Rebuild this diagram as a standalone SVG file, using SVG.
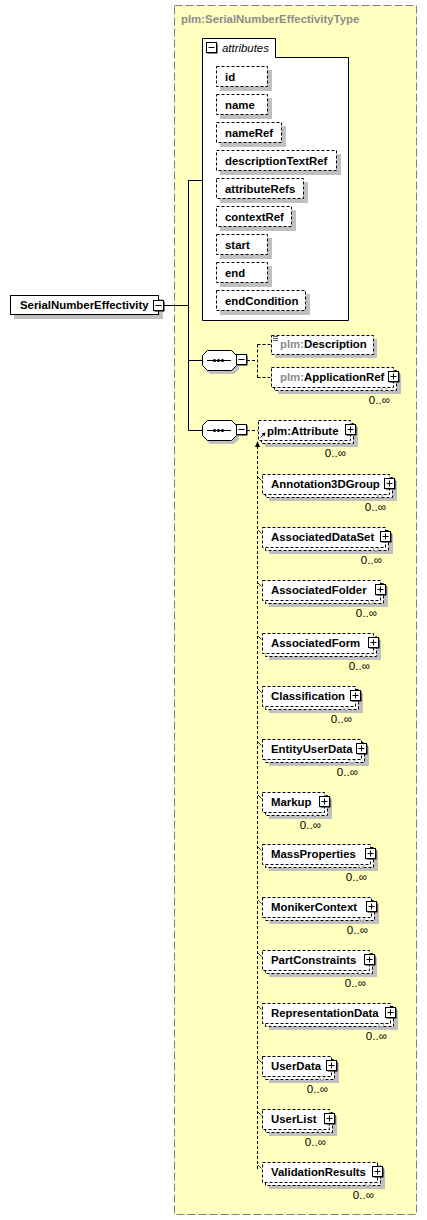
<svg xmlns="http://www.w3.org/2000/svg" width="427" height="1220" viewBox="0 0 427 1220">
<style>
text{font-family:"Liberation Sans",Arial,sans-serif;font-size:11.4px}
.t{font-weight:bold;fill:#000}
.title{font-weight:bold;fill:#8c8c8c}
.gp{fill:#8c8c8c}
.o{text-anchor:end;fill:#000;font-size:11.6px}
.sh{fill:#c0c0c0}
.bx{fill:#fff;stroke:#000;stroke-dasharray:3 2}
.sb{fill:#fff;stroke:#000}
.ln{stroke:#000;fill:none}
.dl{stroke:#000;fill:none;stroke-dasharray:3 2}
.vm{stroke:#777;fill:#fff;stroke-width:0.8}
</style>
<defs>
<g id="plus"><rect x="1" y="1" width="10" height="10" fill="#000"/><rect x="0" y="0" width="10" height="10" fill="#fff" stroke="#000"/><path d="M2 5H8M5 2V8" stroke="#000"/></g>
<g id="minus"><rect x="1" y="1" width="10" height="10" fill="#000"/><rect x="0" y="0" width="10" height="10" fill="#fff" stroke="#000"/><path d="M2 5H8" stroke="#000"/></g>
<g id="seq">
<polygon class="sh" points="210,353 234,353 239,358 239,369 234,374 210,374 205,369 205,358"/>
<polygon class="sb" points="207.5,350.5 231.5,350.5 236.5,355.5 236.5,365.5 231.5,370.5 207.5,370.5 202.5,365.5 202.5,355.5"/>
<path d="M207 360.5H231" stroke="#000"/>
<circle cx="214.5" cy="360.5" r="1.6"/><circle cx="218.5" cy="360.5" r="1.6"/><circle cx="222.5" cy="360.5" r="1.6"/>
<use href="#minus" x="236.5" y="354.5"/>
</g>
</defs>

<g id="type-box">
<rect x="174.5" y="5.5" width="242" height="1209" fill="#ffffc0" stroke="#808080" stroke-dasharray="8 3"/>
<text class="title" x="181" y="23">plm:SerialNumberEffectivityType</text>
</g>

<g id="connectors">
<path class="ln" d="M164 305.5H188.5M188.5 180V430.5M188.5 180.5H202M188.5 360.5H202M188.5 430.5H202"/>
<path class="dl" d="M247 360.5H257.5M257.5 344.5V377.5M257.5 344.5H271M257.5 377.5H271"/>
<path class="dl" d="M247 430.5H258"/>
<path class="dl" d="M257.5 446V1169"/>
<polygon points="257.5,441 255,447 260,447"/>
<path class="ln" d="M258 477L261.5 480.5M258 530L261.5 533.5M258 583L261.5 586.5M258 636L261.5 639.5M258 689L261.5 692.5M258 742L261.5 745.5M258 795L261.5 798.5M258 847L261.5 850.5M258 900L261.5 903.5M258 953L261.5 956.5M258 1006L261.5 1009.5M258 1059L261.5 1062.5M258 1112L261.5 1115.5M258 1165L261.5 1168.5" stroke-width="0.8"/>
</g>

<g id="attributes">
<path d="M202.5 38.5H275.5V57.5H348.5V320.5H202.5Z" fill="#fff" stroke="#000"/>
<use href="#minus" x="206.5" y="42.5"/>
<text x="222" y="52" font-style="italic">attributes</text>
</g>
<g id="attr-id"><rect class="sh" x="220" y="70" width="52" height="21"/><rect class="bx" x="216.5" y="66.5" width="51" height="20"/><text class="t" x="225" y="81">id</text></g>
<g id="attr-name"><rect class="sh" x="220" y="98" width="52" height="21"/><rect class="bx" x="216.5" y="94.5" width="51" height="20"/><text class="t" x="225" y="109">name</text></g>
<g id="attr-nameRef"><rect class="sh" x="220" y="126" width="66" height="21"/><rect class="bx" x="216.5" y="122.5" width="65" height="20"/><text class="t" x="225" y="137">nameRef</text></g>
<g id="attr-descriptionTextRef"><rect class="sh" x="220" y="154" width="121" height="21"/><rect class="bx" x="216.5" y="150.5" width="120" height="20"/><text class="t" x="225" y="165">descriptionTextRef</text></g>
<g id="attr-attributeRefs"><rect class="sh" x="220" y="182" width="88" height="21"/><rect class="bx" x="216.5" y="178.5" width="87" height="20"/><text class="t" x="225" y="193">attributeRefs</text></g>
<g id="attr-contextRef"><rect class="sh" x="220" y="210" width="76" height="21"/><rect class="bx" x="216.5" y="206.5" width="75" height="20"/><text class="t" x="225" y="221">contextRef</text></g>
<g id="attr-start"><rect class="sh" x="220" y="238" width="52" height="21"/><rect class="bx" x="216.5" y="234.5" width="51" height="20"/><text class="t" x="225" y="249">start</text></g>
<g id="attr-end"><rect class="sh" x="220" y="266" width="52" height="21"/><rect class="bx" x="216.5" y="262.5" width="51" height="20"/><text class="t" x="225" y="277">end</text></g>
<g id="attr-endCondition"><rect class="sh" x="220" y="294" width="90" height="21"/><rect class="bx" x="216.5" y="290.5" width="89" height="20"/><text class="t" x="225" y="305">endCondition</text></g>

<g id="root">
<rect class="sh" x="14" y="299" width="149" height="20"/>
<rect class="sb" x="10.5" y="295.5" width="148" height="19"/>
<text class="t" x="20" y="309">SerialNumberEffectivity</text>
<use href="#minus" x="153.5" y="300.5"/>
</g>

<g id="sequence1"><use href="#seq"/></g>
<g id="sequence2"><use href="#seq" transform="translate(0,70)"/></g>

<g id="Description">
<rect class="sh" x="275" y="339" width="102" height="19"/>
<rect class="bx" x="271.5" y="335.5" width="102" height="19"/>
<path d="M273 336.5H278M273 338.5H278M273 340.5H278" stroke="#333" stroke-width="0.8"/>
<text class="t" x="280" y="348"><tspan class="gp">plm:</tspan>Description</text>
</g>

<g id="ApplicationRef" transform="translate(0,367)">
<rect class="sh" x="278" y="7" width="123" height="20"/>
<rect class="bx" x="274.5" y="3.5" width="122" height="20"/>
<rect class="bx" x="271.5" y="0.5" width="122" height="20"/>
<text class="t" x="280" y="14"><tspan class="gp">plm:</tspan>ApplicationRef</text>
<use href="#plus" x="388.5" y="4.5"/>
<path class="vm" d="M381 21l3 4l3 -4"/>
<text class="o" x="390" y="37">0..∞</text>
</g>

<g id="Attribute" transform="translate(0,420)">
<rect class="sh" x="265" y="7" width="93" height="20"/>
<rect class="bx" x="261.5" y="3.5" width="92" height="20"/>
<rect class="bx" x="258.5" y="0.5" width="92" height="20"/>
<text class="t" x="267" y="14.5">plm:Attribute</text>
<use href="#plus" x="345.5" y="4.5"/>
<path class="vm" d="M338 21l3 4l3 -4"/>
<text class="o" x="346" y="37">0..∞</text>
<path d="M260.5 17.5L263.5 14.5" stroke="#000"/>
<polygon points="265.5,12.5 261.5,13.5 264.5,16.5"/>
</g>

<g id="Annotation3DGroup" transform="translate(0,474)">
<rect class="sh" x="269" y="7" width="128" height="20"/><rect class="bx" x="265.5" y="3.5" width="127" height="20"/><rect class="bx" x="262.5" y="0.5" width="127" height="20"/>
<text class="t" x="271" y="14">Annotation3DGroup</text><use href="#plus" x="384.5" y="4.5"/><path class="vm" d="M377 21l3 4l3 -4"/><text class="o" x="386" y="37">0..∞</text>
</g>
<g id="AssociatedDataSet" transform="translate(0,527)">
<rect class="sh" x="269" y="7" width="124" height="20"/><rect class="bx" x="265.5" y="3.5" width="123" height="20"/><rect class="bx" x="262.5" y="0.5" width="123" height="20"/>
<text class="t" x="271" y="14">AssociatedDataSet</text><use href="#plus" x="380.5" y="4.5"/><path class="vm" d="M373 21l3 4l3 -4"/><text class="o" x="382" y="37">0..∞</text>
</g>
<g id="AssociatedFolder" transform="translate(0,580)">
<rect class="sh" x="269" y="7" width="119" height="20"/><rect class="bx" x="265.5" y="3.5" width="118" height="20"/><rect class="bx" x="262.5" y="0.5" width="118" height="20"/>
<text class="t" x="271" y="14">AssociatedFolder</text><use href="#plus" x="375.5" y="4.5"/><path class="vm" d="M368 21l3 4l3 -4"/><text class="o" x="377" y="37">0..∞</text>
</g>
<g id="AssociatedForm" transform="translate(0,633)">
<rect class="sh" x="269" y="7" width="112" height="20"/><rect class="bx" x="265.5" y="3.5" width="111" height="20"/><rect class="bx" x="262.5" y="0.5" width="111" height="20"/>
<text class="t" x="271" y="14">AssociatedForm</text><use href="#plus" x="368.5" y="4.5"/><path class="vm" d="M361 21l3 4l3 -4"/><text class="o" x="370" y="37">0..∞</text>
</g>
<g id="Classification" transform="translate(0,686)">
<rect class="sh" x="269" y="7" width="94" height="20"/><rect class="bx" x="265.5" y="3.5" width="93" height="20"/><rect class="bx" x="262.5" y="0.5" width="93" height="20"/>
<text class="t" x="271" y="14">Classification</text><use href="#plus" x="350.5" y="4.5"/><path class="vm" d="M343 21l3 4l3 -4"/><text class="o" x="352" y="37">0..∞</text>
</g>
<g id="EntityUserData" transform="translate(0,739)">
<rect class="sh" x="269" y="7" width="100" height="20"/><rect class="bx" x="265.5" y="3.5" width="99" height="20"/><rect class="bx" x="262.5" y="0.5" width="99" height="20"/>
<text class="t" x="271" y="14">EntityUserData</text><use href="#plus" x="356.5" y="4.5"/><path class="vm" d="M349 21l3 4l3 -4"/><text class="o" x="358" y="37">0..∞</text>
</g>
<g id="Markup" transform="translate(0,792)">
<rect class="sh" x="269" y="7" width="63" height="20"/><rect class="bx" x="265.5" y="3.5" width="62" height="20"/><rect class="bx" x="262.5" y="0.5" width="62" height="20"/>
<text class="t" x="271" y="14">Markup</text><use href="#plus" x="319.5" y="4.5"/><path class="vm" d="M312 21l3 4l3 -4"/><text class="o" x="321" y="37">0..∞</text>
</g>
<g id="MassProperties" transform="translate(0,844)">
<rect class="sh" x="269" y="7" width="109" height="20"/><rect class="bx" x="265.5" y="3.5" width="108" height="20"/><rect class="bx" x="262.5" y="0.5" width="108" height="20"/>
<text class="t" x="271" y="14">MassProperties</text><use href="#plus" x="365.5" y="4.5"/><path class="vm" d="M358 21l3 4l3 -4"/><text class="o" x="367" y="37">0..∞</text>
</g>
<g id="MonikerContext" transform="translate(0,897)">
<rect class="sh" x="269" y="7" width="110" height="20"/><rect class="bx" x="265.5" y="3.5" width="109" height="20"/><rect class="bx" x="262.5" y="0.5" width="109" height="20"/>
<text class="t" x="271" y="14">MonikerContext</text><use href="#plus" x="366.5" y="4.5"/><path class="vm" d="M359 21l3 4l3 -4"/><text class="o" x="368" y="37">0..∞</text>
</g>
<g id="PartConstraints" transform="translate(0,950)">
<rect class="sh" x="269" y="7" width="108" height="20"/><rect class="bx" x="265.5" y="3.5" width="107" height="20"/><rect class="bx" x="262.5" y="0.5" width="107" height="20"/>
<text class="t" x="271" y="14">PartConstraints</text><use href="#plus" x="364.5" y="4.5"/><path class="vm" d="M357 21l3 4l3 -4"/><text class="o" x="366" y="37">0..∞</text>
</g>
<g id="RepresentationData" transform="translate(0,1003)">
<rect class="sh" x="269" y="7" width="129" height="20"/><rect class="bx" x="265.5" y="3.5" width="128" height="20"/><rect class="bx" x="262.5" y="0.5" width="128" height="20"/>
<text class="t" x="271" y="14">RepresentationData</text><use href="#plus" x="385.5" y="4.5"/><path class="vm" d="M378 21l3 4l3 -4"/><text class="o" x="387" y="37">0..∞</text>
</g>
<g id="UserData" transform="translate(0,1056)">
<rect class="sh" x="269" y="7" width="70" height="20"/><rect class="bx" x="265.5" y="3.5" width="69" height="20"/><rect class="bx" x="262.5" y="0.5" width="69" height="20"/>
<text class="t" x="271" y="14">UserData</text><use href="#plus" x="326.5" y="4.5"/><path class="vm" d="M319 21l3 4l3 -4"/><text class="o" x="328" y="37">0..∞</text>
</g>
<g id="UserList" transform="translate(0,1109)">
<rect class="sh" x="269" y="7" width="68" height="20"/><rect class="bx" x="265.5" y="3.5" width="67" height="20"/><rect class="bx" x="262.5" y="0.5" width="67" height="20"/>
<text class="t" x="271" y="14">UserList</text><use href="#plus" x="324.5" y="4.5"/><path class="vm" d="M317 21l3 4l3 -4"/><text class="o" x="326" y="37">0..∞</text>
</g>
<g id="ValidationResults" transform="translate(0,1162)">
<rect class="sh" x="269" y="7" width="116" height="20"/><rect class="bx" x="265.5" y="3.5" width="115" height="20"/><rect class="bx" x="262.5" y="0.5" width="115" height="20"/>
<text class="t" x="271" y="14">ValidationResults</text><use href="#plus" x="372.5" y="4.5"/><path class="vm" d="M365 21l3 4l3 -4"/><text class="o" x="374" y="37">0..∞</text>
</g>
</svg>
